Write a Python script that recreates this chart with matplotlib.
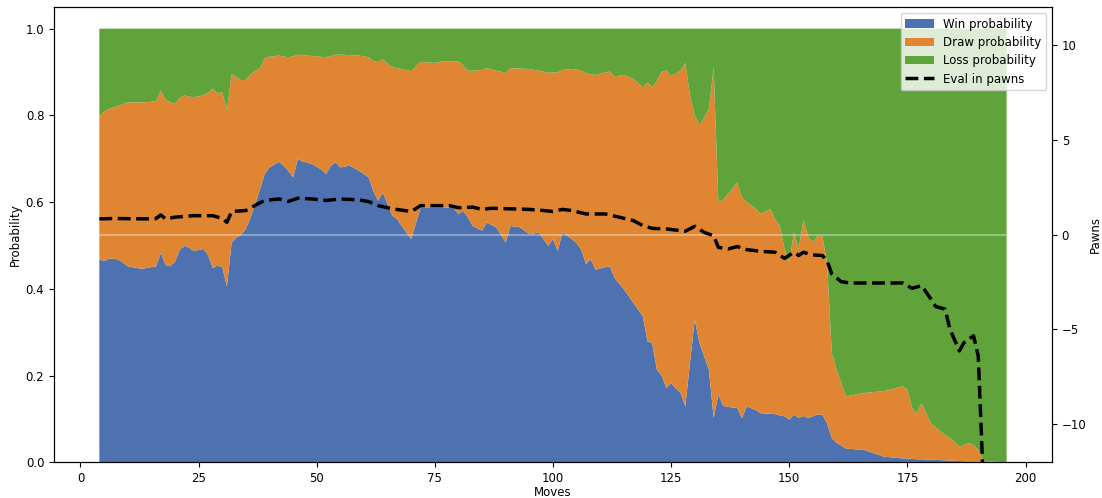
import numpy as np
import matplotlib
matplotlib.use("Agg")
import matplotlib.pyplot as plt

plt.rcParams["font.size"] = 8.5

# probabilities per move
moves = [4, 5, 6, 8, 10, 13, 16, 17, 18, 19, 20, 21, 22, 23, 24, 26, 27, 28, 29, 30,
         31, 32, 33, 34, 35, 36, 37, 38, 39, 40, 42, 43, 44, 45, 46, 47, 49, 51, 52, 53,
         54, 55, 57, 59, 61, 62, 63, 64, 66, 67, 68, 70, 72, 75, 77, 79, 80, 81, 82, 83,
         85, 86, 88, 90, 91, 93, 95, 97, 99, 100, 101, 102, 104, 105, 106, 107, 108, 109, 111, 112,
         113, 115, 117, 119, 120, 121, 122, 123, 124, 125, 126, 127, 128, 129, 130, 131, 132, 133, 134, 135,
         136, 137, 139, 140, 141, 143, 144, 146, 147, 148, 149, 150, 151, 152, 153, 154, 155, 156, 157, 158,
         159, 160, 162, 166, 170, 174, 175, 176, 177, 178, 180, 182, 184, 186, 188, 189, 190, 191, 192, 196]

win = [0.468, 0.464, 0.470, 0.468, 0.452, 0.446, 0.452, 0.483, 0.455, 0.452, 0.462, 0.490, 0.499, 0.495, 0.487, 0.492, 0.478, 0.448, 0.454, 0.450,
       0.406, 0.507, 0.518, 0.525, 0.538, 0.565, 0.595, 0.630, 0.665, 0.680, 0.693, 0.684, 0.672, 0.657, 0.699, 0.694, 0.688, 0.675, 0.665, 0.684,
       0.692, 0.680, 0.684, 0.672, 0.657, 0.625, 0.603, 0.622, 0.569, 0.561, 0.545, 0.515, 0.588, 0.588, 0.588, 0.586, 0.572, 0.580, 0.565, 0.545,
       0.534, 0.553, 0.542, 0.507, 0.545, 0.542, 0.526, 0.530, 0.499, 0.515, 0.487, 0.530, 0.515, 0.505, 0.490, 0.457, 0.468, 0.444, 0.450, 0.452,
       0.426, 0.399, 0.368, 0.337, 0.279, 0.275, 0.213, 0.200, 0.171, 0.183, 0.170, 0.160, 0.129, 0.230, 0.329, 0.275, 0.244, 0.213, 0.102, 0.156,
       0.130, 0.128, 0.125, 0.102, 0.129, 0.120, 0.113, 0.112, 0.111, 0.108, 0.106, 0.098, 0.110, 0.102, 0.107, 0.102, 0.106, 0.110, 0.110, 0.090,
       0.056, 0.045, 0.032, 0.028, 0.013, 0.009, 0.009, 0.008, 0.007, 0.007, 0.006, 0.005, 0.004, 0.003, 0.002, 0.002, 0.001, 0.001, 0.000, 0.000]

draw = [0.329, 0.344, 0.345, 0.354, 0.378, 0.384, 0.380, 0.374, 0.381, 0.378, 0.364, 0.350, 0.347, 0.348, 0.355, 0.354, 0.374, 0.414, 0.396, 0.404,
        0.406, 0.389, 0.370, 0.356, 0.344, 0.330, 0.308, 0.278, 0.267, 0.255, 0.245, 0.252, 0.262, 0.279, 0.241, 0.245, 0.249, 0.260, 0.269, 0.253,
        0.248, 0.260, 0.255, 0.266, 0.277, 0.300, 0.320, 0.307, 0.342, 0.348, 0.362, 0.387, 0.335, 0.333, 0.337, 0.339, 0.353, 0.335, 0.338, 0.358,
        0.371, 0.356, 0.361, 0.391, 0.364, 0.366, 0.381, 0.373, 0.399, 0.384, 0.412, 0.375, 0.392, 0.401, 0.413, 0.440, 0.427, 0.449, 0.449, 0.449,
        0.464, 0.494, 0.516, 0.528, 0.597, 0.590, 0.667, 0.700, 0.733, 0.708, 0.726, 0.743, 0.792, 0.616, 0.471, 0.502, 0.551, 0.602, 0.809, 0.444,
        0.475, 0.490, 0.520, 0.508, 0.471, 0.464, 0.460, 0.472, 0.450, 0.437, 0.386, 0.363, 0.420, 0.389, 0.453, 0.418, 0.401, 0.412, 0.412, 0.370,
        0.196, 0.169, 0.120, 0.132, 0.151, 0.166, 0.159, 0.117, 0.106, 0.129, 0.084, 0.066, 0.052, 0.033, 0.042, 0.038, 0.027, 0.005, 0.002, 0.000]

loss = [1 - w - d for w, d in zip(win, draw)]

# evaluation in pawns
eval_moves = [4, 7, 14, 16, 17, 18, 20, 24, 28, 30, 31, 32, 35, 37, 39, 42, 44, 46, 49, 52,
              55, 59, 61, 63, 66, 70, 72, 78, 80, 83, 85, 87, 91, 95, 98, 100, 102, 104, 107, 111,
              114, 117, 119, 121, 124, 128, 130, 132, 134, 135, 137, 139, 141, 144, 147, 149, 151, 152, 153, 155,
              157, 158, 159, 161, 163, 174, 176, 178, 180, 181, 183, 184, 186, 187, 189, 190, 191]
eval_pawns = [0.83, 0.85, 0.83, 0.85, 1.04, 0.83, 0.92, 1.0, 1.0, 0.85, 0.65, 1.22, 1.27, 1.55, 1.80, 1.88, 1.75, 1.92, 1.88, 1.80,
              1.88, 1.83, 1.74, 1.53, 1.36, 1.22, 1.53, 1.53, 1.42, 1.45, 1.33, 1.39, 1.36, 1.33, 1.27, 1.22, 1.33, 1.27, 1.09, 1.09,
              0.92, 0.74, 0.48, 0.33, 0.30, 0.18, 0.44, 0.12, -0.06, -0.67, -0.76, -0.63, -0.79, -0.88, -0.93, -1.25, -0.93, -1.10, -0.93, -1.07,
              -1.10, -1.37, -2.07, -2.48, -2.55, -2.55, -2.83, -2.69, -3.40, -3.79, -3.93, -4.98, -6.13, -5.69, -5.33, -6.4, -12.6]

labels = ["Win probability", "Draw probability", "Loss probability", "Eval in pawns"]
colors = ["#4d72af", "#e08633", "#60a33a"]

fig = plt.figure(figsize=(11.02, 4.98), dpi=100)
ax = fig.add_axes([0.049, 0.0717, 0.9056, 0.9143])
polys = ax.stackplot(moves, win, draw, loss, colors=colors, labels=labels[:3])
ax.set_xlabel("Moves", labelpad=1)
ax.set_ylabel("Probability", labelpad=3)
ax.set_xticks(range(0, 201, 25))

ax2 = ax.twinx()
ax2.hlines(0, moves[0], moves[-1], color="white", alpha=0.35, lw=1.5)
line, = ax2.plot(eval_moves, eval_pawns, "k--", lw=2.5, label=labels[3])
ax2.set_ylim(-12, 12)
ax2.set_ylabel("Pawns", labelpad=2)

ax2.legend(handles=list(polys) + [line], loc="upper right", fontsize=8.5,
           handlelength=2.4, labelspacing=0.45)

fig.savefig("out.png", dpi=100)
